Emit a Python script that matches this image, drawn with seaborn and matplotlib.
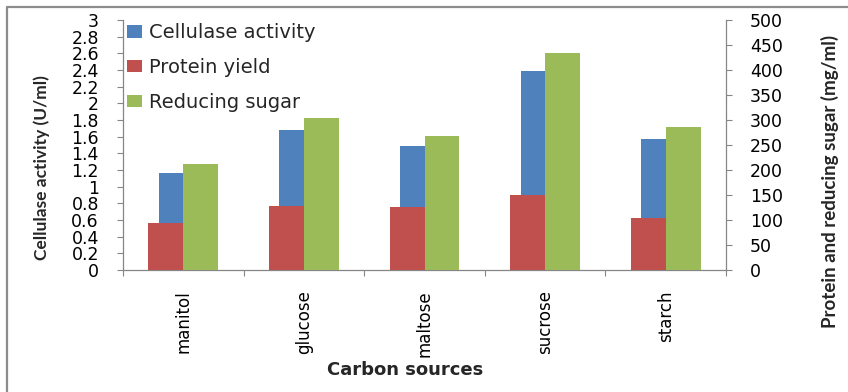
import numpy as np
import pandas as pd
import matplotlib
matplotlib.use("Agg")
import matplotlib.pyplot as plt
import seaborn as sns
from matplotlib.patches import Patch
from matplotlib.lines import Line2D

# Carbon source screening results
carbon_sources = ["manitol", "glucose", "maltose", "sucrose", "starch"]
cellulase_activity = [1.17, 1.68, 1.49, 2.39, 1.57]   # U/ml (left axis)
protein_yield = [95, 129, 127, 150, 105]              # mg/ml (right axis)
reducing_sugar = [213, 305, 269, 435, 287]            # mg/ml (right axis)

left_ticks = [0, 0.2, 0.4, 0.6, 0.8, 1, 1.2, 1.4, 1.6, 1.8, 2, 2.2, 2.4, 2.6, 2.8, 3]
right_ticks = [0, 50, 100, 150, 200, 250, 300, 350, 400, 450, 500]
series_labels = ["Cellulase activity", "Protein yield", "Reducing sugar"]

BLUE, RED, GREEN = "#4F81BD", "#C0504D", "#9BBB59"
AXIS_GREY = "#868686"

sns.set_style("white")
plt.rcParams["font.family"] = ["DejaVu Sans"]

df = pd.DataFrame({
    "source": carbon_sources,
    "cellulase": cellulase_activity,
    "protein": protein_yield,
    "sugar": reducing_sugar,
})

W, H = 848, 392
fig = plt.figure(figsize=(W / 100, H / 100), dpi=100)
ax = fig.add_axes([123 / W, 1 - 270 / H, 603 / W, 250 / H])
ax2 = ax.twinx()


def draw_series(axis, column, color, width, shift):
    start = len(axis.patches)
    sns.barplot(data=df, x="source", y=column, color=color, width=width,
                saturation=1, errorbar=None, ax=axis)
    for bar in axis.patches[start:]:
        bar.set_x(bar.get_x() + shift)
        bar.set_linewidth(0)


draw_series(ax, "cellulase", BLUE, 0.203, -0.1015)
draw_series(ax2, "protein", RED, 0.29, -0.145)
draw_series(ax2, "sugar", GREEN, 0.29, 0.145)

# Axis limits and ticks
ax.set_xlim(-0.5, len(carbon_sources) - 0.5)
ax.set_ylim(0, 3)
ax2.set_ylim(0, 500)

ax.set_yticks(left_ticks)
ax.set_yticklabels([f"{v:g}" for v in left_ticks])
ax2.set_yticks(right_ticks)
ax2.set_yticklabels([str(v) for v in right_ticks])

ax.set_xticks(range(len(carbon_sources)))
ax.set_xticklabels(carbon_sources, rotation=90, ha="center", va="top")
ax.set_xticks(np.arange(-0.5, len(carbon_sources)), minor=True)

ax.tick_params(axis="y", which="major", left=True, right=False, direction="out",
               length=4.3, width=0.8, color=AXIS_GREY, pad=13, labelsize=12.5,
               labelcolor="black")
ax2.tick_params(axis="y", which="major", right=True, left=False, direction="out",
                length=4.3, width=0.8, color=AXIS_GREY, pad=13, labelsize=12.5,
                labelcolor="black")
ax.tick_params(axis="x", which="major", bottom=True, length=0, pad=14.4,
               labelsize=12, labelcolor="black")
ax.tick_params(axis="x", which="minor", bottom=True, direction="out",
               length=4.3, width=0.8, color=AXIS_GREY)

for name, spine in ax.spines.items():
    spine.set_visible(name in ("left", "bottom"))
    spine.set_color(AXIS_GREY)
    spine.set_linewidth(0.9)
for name, spine in ax2.spines.items():
    spine.set_visible(name == "right")
    spine.set_color(AXIS_GREY)
    spine.set_linewidth(0.9)

ax.grid(False)
ax2.grid(False)

# Axis titles
ax.set_ylabel("Cellulase activity (U/ml)", family="Lato", fontweight="bold",
              fontsize=12.5, va="center", ha="center")
ax.yaxis.set_label_coords(-0.1343, 0.408)
ax2.set_ylabel("Protein and reducing sugar (mg/ml)", family="Lato",
               fontweight="bold", fontsize=13.5, va="center",
               ha="center", rotation=90)
ax2.yaxis.set_label_coords(1.1725, 0.356)
ax.set_xlabel("Carbon sources", fontweight="bold", fontsize=13, va="center")
ax.xaxis.set_label_coords(0.4677, -0.40)

# Legend
handles = [Patch(facecolor=c, edgecolor="none") for c in (BLUE, RED, GREEN)]
fig.legend(handles, series_labels, loc="upper left",
           bbox_to_anchor=(127 / W, 1 - 23.5 / H), frameon=False, fontsize=14,
           handlelength=0.78, handleheight=0.6, handletextpad=0.33,
           labelspacing=0.8, borderpad=0, borderaxespad=0)

# Chart-area border
fig.add_artist(Line2D([7 / W, 7 / W, 1.0], [0.0, 1 - 6.5 / H, 1 - 6.5 / H],
                      transform=fig.transFigure, color="#8c8c8c", lw=1.6))

fig.savefig("out.png", dpi=100)
